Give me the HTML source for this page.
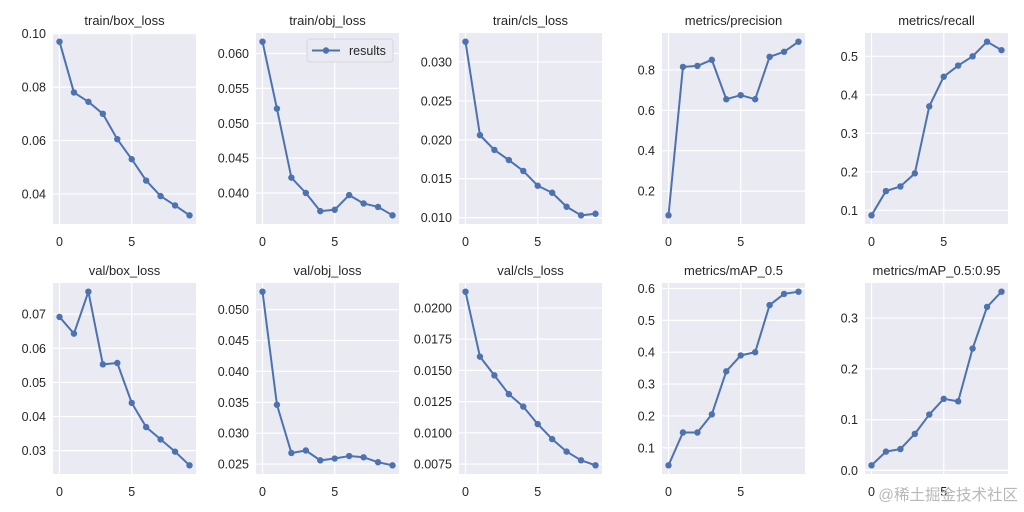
<!DOCTYPE html>
<html><head><meta charset="utf-8"><style>
html,body{margin:0;padding:0;background:#fff;}
svg{display:block;font-family:"Liberation Sans","DejaVu Sans",sans-serif;}
</style></head><body>
<svg id="c" width="1024" height="512" viewBox="0 0 1024 512"></svg>
<script>
const titles = ["train/box_loss","train/obj_loss","train/cls_loss","metrics/precision","metrics/recall","val/box_loss","val/obj_loss","val/cls_loss","metrics/mAP_0.5","metrics/mAP_0.5:0.95"];
const epochs = [0,1,2,3,4,5,6,7,8,9];
const trainBox = [0.097,0.078,0.0745,0.070,0.0605,0.053,0.045,0.0392,0.0357,0.032];
const trainObj = [0.0617,0.0521,0.0422,0.0400,0.0374,0.0376,0.0397,0.0385,0.0380,0.0368];
const trainCls = [0.0326,0.0206,0.0187,0.0174,0.0160,0.0141,0.0132,0.0114,0.0103,0.0105];
const precision = [0.08,0.815,0.82,0.85,0.655,0.675,0.655,0.865,0.89,0.94];
const recall = [0.087,0.15,0.162,0.196,0.37,0.447,0.476,0.5,0.538,0.516];
const valBox = [0.0692,0.0643,0.0766,0.0553,0.0557,0.0440,0.0369,0.0333,0.0297,0.0257];
const valObj = [0.0529,0.0346,0.0268,0.0272,0.0256,0.0259,0.0263,0.0261,0.0253,0.0248];
const valCls = [0.0213,0.0161,0.0146,0.0131,0.0121,0.0107,0.0095,0.0085,0.0078,0.0074];
const map50 = [0.045,0.148,0.148,0.205,0.34,0.39,0.40,0.548,0.583,0.59];
const map5095 = [0.01,0.037,0.042,0.072,0.11,0.141,0.136,0.24,0.322,0.352];
const xTicks = [0,5];
const yTicks = [
 ["0.04","0.06","0.08","0.10"],
 ["0.040","0.045","0.050","0.055","0.060"],
 ["0.010","0.015","0.020","0.025","0.030"],
 ["0.2","0.4","0.6","0.8"],
 ["0.1","0.2","0.3","0.4","0.5"],
 ["0.03","0.04","0.05","0.06","0.07"],
 ["0.025","0.030","0.035","0.040","0.045","0.050"],
 ["0.0075","0.0100","0.0125","0.0150","0.0175","0.0200"],
 ["0.1","0.2","0.3","0.4","0.5","0.6"],
 ["0.0","0.1","0.2","0.3"]
];
const series = [trainBox,trainObj,trainCls,precision,recall,valBox,valObj,valCls,map50,map5095];

const NS="http://www.w3.org/2000/svg";
const svg=document.getElementById('c');
function mk(tag,attrs,parent){const e=document.createElementNS(NS,tag);for(const k in attrs)e.setAttribute(k,attrs[k]);(parent||svg).appendChild(e);return e;}
const W=143,H=191;
series.forEach((data,i)=>{
  const col=i%5,row=Math.floor(i/5);
  const x0=53+col*203, y0=row?283:33;
  const g=mk('g',{});
  
  
  const bg=mk('rect',{x:x0,y:y0,width:W,height:H,fill:'#eaeaf2'},g);
  
  
  const xmin=epochs[0],xmax=epochs[epochs.length-1],xm=(xmax-xmin)*0.05;
  const sx=v=>x0+(v-(xmin-xm))/((xmax+xm)-(xmin-xm))*W;
  const dmin=Math.min(...data),dmax=Math.max(...data),ym=(dmax-dmin)*0.05;
  const sy=v=>y0+H-(v-(dmin-ym))/((dmax+ym)-(dmin-ym))*H;
  xTicks.forEach(t=>{
    const X=sx(t);
    const gl=mk('line',{x1:X,x2:X,y1:y0,y2:y0+H,stroke:'#fff','stroke-width':1.2},g);
    
    
    const tl=mk('text',{x:X,y:y0+H+22,'font-size':12.5,fill:'#262626','text-anchor':'middle'},g);
    tl.textContent=t;
    
    
  });
  yTicks[i].forEach(t=>{
    const Y=sy(parseFloat(t));
    const gl=mk('line',{x1:x0,x2:x0+W,y1:Y,y2:Y,stroke:'#fff','stroke-width':1.2},g);
    
    
    const tl=mk('text',{x:x0-7,y:Y+4.5,'font-size':12.5,fill:'#262626','text-anchor':'end'},g);
    tl.textContent=t;
    
    
  });
  const tt=mk('text',{x:x0+W/2,y:y0-8,'font-size':13,fill:'#262626','text-anchor':'middle'},g);
  tt.textContent=titles[i];
  
  
  const pts=data.map((v,j)=>sx(epochs[j]).toFixed(2)+','+sy(v).toFixed(2)).join(' ');
  const pl=mk('polyline',{points:pts,fill:'none',stroke:'#4c72b0','stroke-width':2,'stroke-linejoin':'round'},g);
  
  
  data.forEach((v,j)=>{
    const c=mk('circle',{cx:sx(epochs[j]),cy:sy(v),r:3.2,fill:'#4c72b0'},g);
    
    
  });
  if(i===1){
    const lg=mk('g',{},g);
    
    
    mk('rect',{x:307,y:39,width:86,height:23,rx:3,fill:'#eaeaf2',stroke:'#d5d5de','stroke-width':1},lg);
    mk('line',{x1:312,x2:340,y1:50.5,y2:50.5,stroke:'#4c72b0','stroke-width':2},lg);
    mk('circle',{cx:326,cy:50.5,r:3.2,fill:'#4c72b0'},lg);
    const lt=mk('text',{x:349,y:55,'font-size':12.5,fill:'#262626'},lg);
    lt.textContent='results';
    
    
  }
});
const wm=mk('text',{x:1018,y:500,'font-size':15.5,fill:'#b8b8b8','text-anchor':'end','font-family':'"Liberation Sans","Noto Sans CJK SC",sans-serif'});
wm.textContent='@稀土掘金技术社区';


</script>
</body></html>
